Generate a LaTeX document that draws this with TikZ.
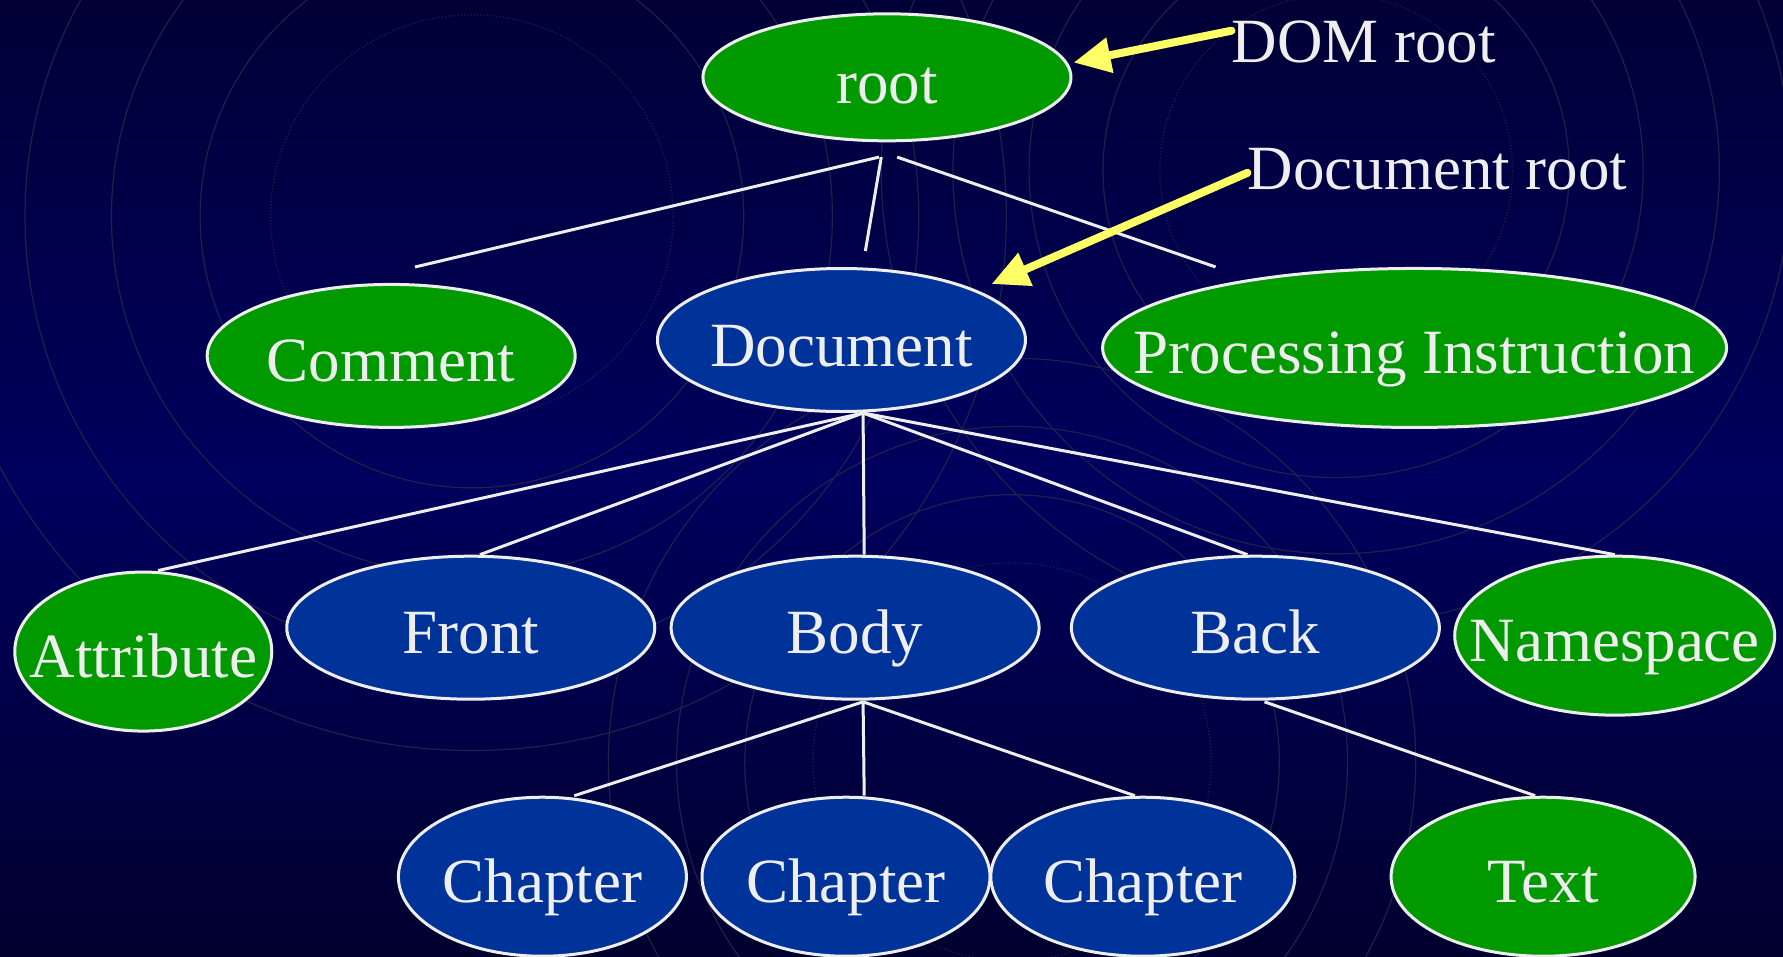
\documentclass[tikz,border=0pt]{standalone}
\usepackage{fontspec}
\setmainfont{Liberation Serif}
\usetikzlibrary{shapes.geometric,arrows.meta}
\definecolor{nodegreen}{HTML}{009900}
\definecolor{nodeblue}{HTML}{003399}
\definecolor{fg}{HTML}{EEEEEE}
\definecolor{arrowyellow}{HTML}{FFFF66}
\definecolor{bgtop}{HTML}{000036}
\definecolor{bgmid}{HTML}{00005E}
\definecolor{bgbot}{HTML}{00002E}
\definecolor{ring}{HTML}{20204C}
\begin{document}
\begin{tikzpicture}[x=1.1371pt,y=-1.1371pt,
  ellip/.style={ellipse, draw=fg, line width=3pt, inner sep=0pt},
  gnode/.style={ellip, fill=nodegreen},
  bnode/.style={ellip, fill=nodeblue},
  lbl/.style={text=fg, font=\fontsize{63}{70}\selectfont, inner sep=0pt, anchor=base},
  calllbl/.style={lbl, anchor=base west},
  edge/.style={draw=fg, line width=3pt},
  callout/.style={draw=arrowyellow, line width=8pt, line cap=round, -{Triangle[length=37pt,width=34pt]}},
  ringline/.style={draw=ring, line width=1.2pt},
  ringdot/.style={draw=ring, line width=1.2pt, dotted},
]
\useasboundingbox (0,0) rectangle (1568,841);
\shade[top color=bgtop, bottom color=bgbot, middle color=bgmid] (0,0) rectangle (1568,841);
\begin{scope}
\clip (0,0) rectangle (1568,841);
\draw[ringdot] (415,190) circle[radius=177];
\foreach \r in {239,317,393,470}{\draw[ringline] (415,190) circle[radius=\r];}
\draw[ringdot] (1175,150) circle[radius=155];
\foreach \r in {205,270,337,400}{\draw[ringline] (1175,150) circle[radius=\r];}
\draw[ringdot] (890,670) circle[radius=175];
\foreach \r in {235,295,355}{\draw[ringline] (890,670) circle[radius=\r];}
\end{scope}

% nodes
\node[gnode, minimum width=368pt, minimum height=127pt] (root) at (780,68) {};
\node[gnode, minimum width=368pt, minimum height=143pt] (comment) at (344,313) {};
\node[bnode, minimum width=368pt, minimum height=143pt] (doc) at (740,299) {};
\node[gnode, minimum width=624pt, minimum height=159pt] (pi) at (1244,306) {};
\node[gnode, minimum width=257pt, minimum height=159pt] (attr) at (126,573) {};
\node[bnode, minimum width=368pt, minimum height=143pt] (front) at (414,552) {};
\node[bnode, minimum width=368pt, minimum height=143pt] (body) at (752,552) {};
\node[bnode, minimum width=368pt, minimum height=143pt] (back) at (1104,552) {};
\node[gnode, minimum width=320pt, minimum height=159pt] (ns) at (1420,559) {};
\node[bnode, minimum width=288pt, minimum height=159pt] (ch1) at (477,771) {};
\node[bnode, minimum width=288pt, minimum height=159pt] (ch2) at (744,771) {};
\node[bnode, minimum width=304pt, minimum height=159pt] (ch3) at (1005,771) {};
\node[gnode, minimum width=304pt, minimum height=159pt] (txt) at (1357,771) {};

% labels
\node[lbl] (rootlbl) at ([yshift=-26pt]root.center) {root};
\node[lbl] (commentlbl) at ([yshift=-26pt]comment.center) {Comment};
\node[lbl] (doclbl) at ([yshift=-26pt]doc.center) {Document};
\node[lbl] (pilbl) at ([yshift=-26pt]pi.center) {Processing Instruction};
\node[lbl] (attrlbl) at ([yshift=-26pt]attr.center) {Attribute};
\node[lbl] (frontlbl) at ([yshift=-26pt]front.center) {Front};
\node[lbl] (bodylbl) at ([yshift=-26pt]body.center) {Body};
\node[lbl] (backlbl) at ([yshift=-26pt]back.center) {Back};
\node[lbl] (nslbl) at ([yshift=-26pt]ns.center) {Namespace};
\node[lbl] (ch1lbl) at ([yshift=-26pt]ch1.center) {Chapter};
\node[lbl] (ch2lbl) at ([yshift=-26pt]ch2.center) {Chapter};
\node[lbl] (ch3lbl) at ([yshift=-26pt]ch3.center) {Chapter};
\node[lbl] (txtlbl) at ([yshift=-26pt]txt.center) {Text};

% connectors
\draw[edge] ([shift={(-7,13)}]root.south) -- ([shift={(21,-14)}]comment.north);
\draw[edge] ([shift={(-5,13)}]root.south) -- ([shift={(21,-14)}]doc.north);
\draw[edge] ([shift={(9,13)}]root.south) -- ([shift={(-175,0)}]pi.north);

\draw[edge] ([shift={(19,0)}]doc.south) -- ([shift={(13,0)}]attr.north);
\draw[edge] ([shift={(19,0)}]doc.south) -- ([shift={(8,0)}]front.north);
\draw[edge] ([shift={(19,0)}]doc.south) -- ([shift={(8,0)}]body.north);
\draw[edge] ([shift={(19,0)}]doc.south) -- ([shift={(-7,0)}]back.north);
\draw[edge] ([shift={(19,0)}]doc.south) -- (ns.north);

\draw[edge] ([shift={(7,1)}]body.south) -- ([shift={(28,0)}]ch1.north);
\draw[edge] ([shift={(7,1)}]body.south) -- ([shift={(16,0)}]ch2.north);
\draw[edge] ([shift={(7,1)}]body.south) -- ([shift={(-7,0)}]ch3.north);
\draw[edge] ([shift={(8,1)}]back.south) -- ([shift={(-7,0)}]txt.north);

% callouts
\node[calllbl] (domroot) at (1083,55) {DOM root};
\node[calllbl] (docroot) at (1097,167) {Document root};
\coordinate (domtail) at (1083,27);
\coordinate (doctail) at (1097,152);
\draw[callout] (domtail) -- ([shift={(1,-13)}]root.east);
\draw[callout] (doctail) -- ([shift={(132,15)}]doc.north);
\end{tikzpicture}
\end{document}
